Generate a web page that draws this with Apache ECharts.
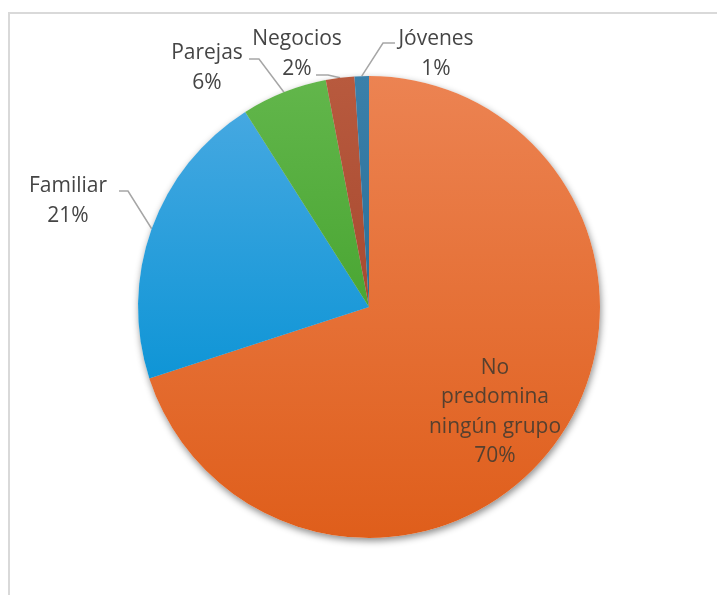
<!DOCTYPE html>
<html>
<head>
<meta charset="utf-8">
<title>Tipo de cliente predominante</title>
<script src="https://cdn.jsdelivr.net/npm/echarts@6/dist/echarts.min.js"></script>
<style>
  html, body { margin: 0; padding: 0; background: #ffffff; }
  #chart { width: 717px; height: 595px; }
</style>
</head>
<body>
<div id="chart"></div>
<script>
// Segment names (line breaks are how the names are wrapped in the labels)
const categories = ['No\npredomina\nningún grupo', 'Familiar', 'Parejas', 'Negocios', 'Jóvenes'];
// Share of each segment, in percent
const shares = [70, 21, 6, 2, 1];

// Slice fills: lighter at the top, deeper at the bottom
const sliceColors = [
  ['#ec8352', '#df5e1b'],
  ['#45a8e1', '#0f95d6'],
  ['#62b64b', '#4aa633'],
  ['#b85a3e', '#a84a30'],
  ['#3a80aa', '#2a6f98']
];

// Where each label block sits, and how its leader line bends toward the text
const labelSpots = [
  { x: 495, y: 412 },
  { x: 68,  y: 201, elbow: [128, 191], end: [119, 191] },
  { x: 207, y: 68,  elbow: [259, 59],  end: [249, 59] },
  { x: 297, y: 54,  elbow: [328, 75],  end: [316, 75] },
  { x: 436, y: 54,  elbow: [383, 43],  end: [395, 43] }
];

const center = [369, 307];
const radius = 231;

const chart = echarts.init(document.getElementById('chart'), null, { renderer: 'canvas' });

function grad(pair) {
  return new echarts.graphic.LinearGradient(0, 0, 0, 1, [
    { offset: 0, color: pair[0] },
    { offset: 1, color: pair[1] }
  ]);
}

const data = categories.map((name, i) => ({
  name: name,
  value: shares[i],
  itemStyle: { color: grad(sliceColors[i]) },
  label: i === 0 ? { color: '#56402f' } : {},
  labelLine: { show: i !== 0 }
}));

const fontFamily = '"Open Sans", "Noto Sans", sans-serif';

chart.setOption({
  backgroundColor: '#ffffff',
  animation: false,
  graphic: [{
    type: 'rect',
    silent: true,
    shape: { x: 9, y: 13, width: 760, height: 640 },
    style: { fill: 'none', stroke: '#d9d9d9', lineWidth: 2 }
  }],
  series: [
    {
      // soft drop shadow under the whole pie
      type: 'pie',
      silent: true,
      center: center,
      radius: radius,
      startAngle: 90,
      clockwise: true,
      z: 1,
      label: { show: false },
      labelLine: { show: false },
      itemStyle: {
        color: '#ffffff',
        borderWidth: 0,
        shadowBlur: 7,
        shadowOffsetX: 1,
        shadowOffsetY: 3,
        shadowColor: 'rgba(0,0,0,0.45)'
      },
      data: shares.map((v, i) => ({ name: categories[i], value: v }))
    },
    {
      type: 'pie',
      center: center,
      radius: radius,
      startAngle: 90,
      clockwise: true,
      z: 2,
      itemStyle: { borderWidth: 0 },
      label: {
        show: true,
        position: 'outside',
        formatter: '{b}\n{c}%',
        fontFamily: fontFamily,
        fontSize: 21,
        lineHeight: 29.5,
        color: '#454545',
        align: 'center',
        overflow: 'none',
        width: 200
      },
      labelLine: {
        show: true,
        lineStyle: { color: '#a6a6a6', width: 1.5 }
      },
      labelLayout: function (params) {
        const spot = labelSpots[params.dataIndex];
        const out = { x: spot.x, y: spot.y, align: 'center', verticalAlign: 'middle' };
        if (spot.elbow && params.labelLinePoints) {
          const edge = params.labelLinePoints[0];
          out.labelLinePoints = [edge, spot.elbow, spot.end];
        }
        return out;
      },
      data: data
    }
  ]
});
</script>
</body>
</html>
